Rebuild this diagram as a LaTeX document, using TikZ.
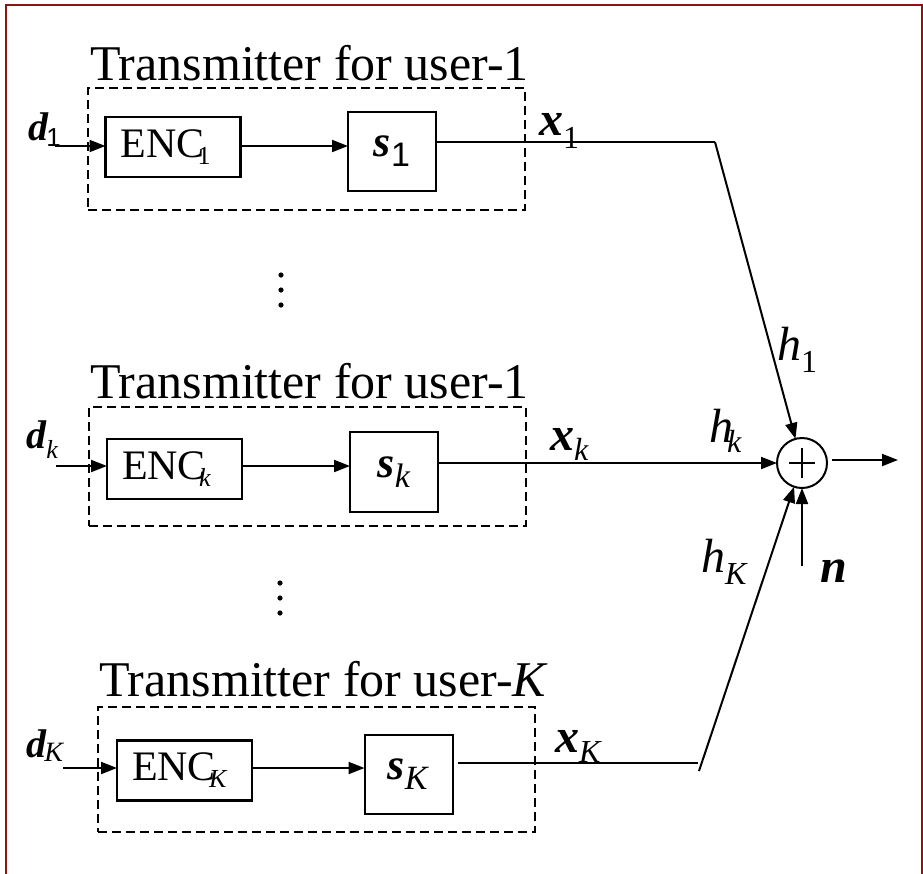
\documentclass[tikz,border=0pt]{standalone}
\usepackage{fontspec}
\setmainfont{Liberation Serif}
\newfontfamily\arialf{Liberation Sans}
\usetikzlibrary{arrows.meta}
\definecolor{framecol}{RGB}{140,20,20}
\newcommand{\bivec}[1]{\textbf{\textit{#1}}}
\newcommand{\lowsub}[3]{\raisebox{-#1}{\fontsize{#2}{#2}\selectfont #3}}
\begin{document}
\begin{tikzpicture}[x=1pt,y=-1pt,
  every node/.style={inner sep=0pt,outer sep=0pt,font=\fontsize{42}{42}\selectfont},
  ln/.style={line width=2pt},
  arr/.style={line width=2pt,-{Triangle[length=16pt,width=12pt]}},
  encbox/.style={draw,line width=2.2pt,minimum width=135,minimum height=60,text width=105pt,align=left,inner xsep=15pt},
  sigbox/.style={draw,line width=2pt,minimum width=88,minimum height=79,font=\fontsize{44}{44}\selectfont},
  txbox/.style={draw,line width=1.6pt,dash pattern=on 9pt off 5pt,minimum width=437},
  ttl/.style={anchor=base west,font=\fontsize{50}{50}\selectfont},
  lbl/.style={anchor=base west,font=\fontsize{48}{48}\selectfont},
  dlbl/.style={anchor=base west,font=\fontsize{40}{40}\selectfont},
  dotc/.style={fill=black}
]
\fill[white] (0,0) rectangle (923,873);
\useasboundingbox (0,0) rectangle (923,873);
\begin{scope}
\clip (0,0) rectangle (923,873);
\draw[framecol,line width=2pt] (6,5) rectangle (922,900);
\end{scope}

% ---- block 1
\node[ttl] (title1) at (90,80) {Transmitter for user-1};
\node[txbox,minimum height=122] (t1) at (306.5,149) {};
\node[encbox] (enc1) at (173,147) {ENC\kern-7pt\lowsub{7pt}{26}{1}};
\node[sigbox] (s1) at (392,151.5) {\bivec{s}\lowsub{10pt}{34}{\arialf 1}};
\node[dlbl] (d1) at (28,140) {\bivec{d}\kern-2pt\lowsub{6pt}{26}{\arialf 1}};
\node[lbl] (x1) at (539,135) {\bivec{x}\lowsub{13pt}{32}{1}};
\coordinate (d1s) at (55,146);
\coordinate (c1) at (715,142);

% ---- block k
\node[ttl] (titlek) at (90,398) {Transmitter for user-1};
\node[txbox,minimum height=119] (tk) at (307.5,466.5) {};
\node[encbox] (enck) at (174.5,469) {ENC\kern-7pt\lowsub{7pt}{26}{\textit{k}}};
\node[sigbox,minimum height=80] (sk) at (394,472) {\bivec{s}\lowsub{10pt}{34}{\textit{k}}};
\node[dlbl] (dk) at (26,448) {\bivec{d}\lowsub{10pt}{26}{\textit{k}}};
\node[lbl] (xk) at (550,450) {\bivec{x}\lowsub{10pt}{32}{\textit{k}}};
\coordinate (dks) at (56,466);

% ---- block K
\node[ttl] (titleK) at (99,696) {Transmitter for user-\textit{K}};
\node[txbox,minimum height=125] (tK) at (316.5,769.5) {};
\node[encbox] (encK) at (184.5,770.5) {ENC\kern-7pt\lowsub{7pt}{26}{\textit{K}}};
\node[sigbox] (sK) at (408.5,774.5) {\bivec{s}\lowsub{10pt}{34}{\textit{K}}};
\node[dlbl] (dK) at (26,757) {\bivec{d}\kern-2pt\lowsub{4pt}{28}{\textit{K}}};
\node[lbl] (xK) at (555,752) {\bivec{x}\lowsub{10pt}{32}{\textit{K}}};
\coordinate (dKs) at (63,768);
\coordinate (cK) at (698,763);
\coordinate (cK2) at (699,771);

% ---- summing node
\node[draw,circle,line width=2pt,minimum size=50] (sum) at (802,463) {};
\draw[ln] ([xshift=-13pt]sum.center) -- ([xshift=13pt]sum.center);
\draw[ln] ([yshift=-15pt]sum.center) -- ([yshift=15pt]sum.center);
\coordinate (outp) at (898,460);
\coordinate (nsrc) at (802,566);
\node[lbl] (h1) at (777,360) {\textit{h}\lowsub{12pt}{32}{1}};
\node[lbl] (hk) at (709,442) {\textit{h}\kern-6pt\lowsub{10pt}{32}{\textit{k}}};
\node[lbl] (hK) at (701,572) {\textit{h}\lowsub{12pt}{32}{\textit{K}}};
\node[lbl] (nlab) at (820,582) {\bivec{n}};

% ---- connectors
\draw[arr] (d1s) -- (d1s -| enc1.west);
\draw[arr] (d1s -| enc1.east) -- (d1s -| s1.west);
\draw[ln] (s1.east |- c1) -- (c1);
\draw[arr] (c1) -- (sum);

\draw[arr] (dks) -- (dks -| enck.west);
\draw[arr] (dks -| enck.east) -- (dks -| sk.west);
\draw[arr] (sk.east |- sum) -- (sum);

\draw[arr] (dKs) -- (dKs -| encK.west);
\draw[arr] (dKs -| encK.east) -- (dKs -| sK.west);
\draw[ln] ([xshift=5pt]sK.east |- cK) -- (cK);
\draw[arr] (cK2) -- (sum);

\draw[arr,shorten <=5pt] (sum.east |- outp) -- (outp);
\draw[arr] (nsrc) -- (sum);

% ---- ellipses
\foreach \yy in {275,290,305} \fill[dotc] (281,\yy) circle (2.6pt);
\foreach \yy in {583,598,613} \fill[dotc] (280,\yy) circle (2.6pt);
\end{tikzpicture}
\end{document}
